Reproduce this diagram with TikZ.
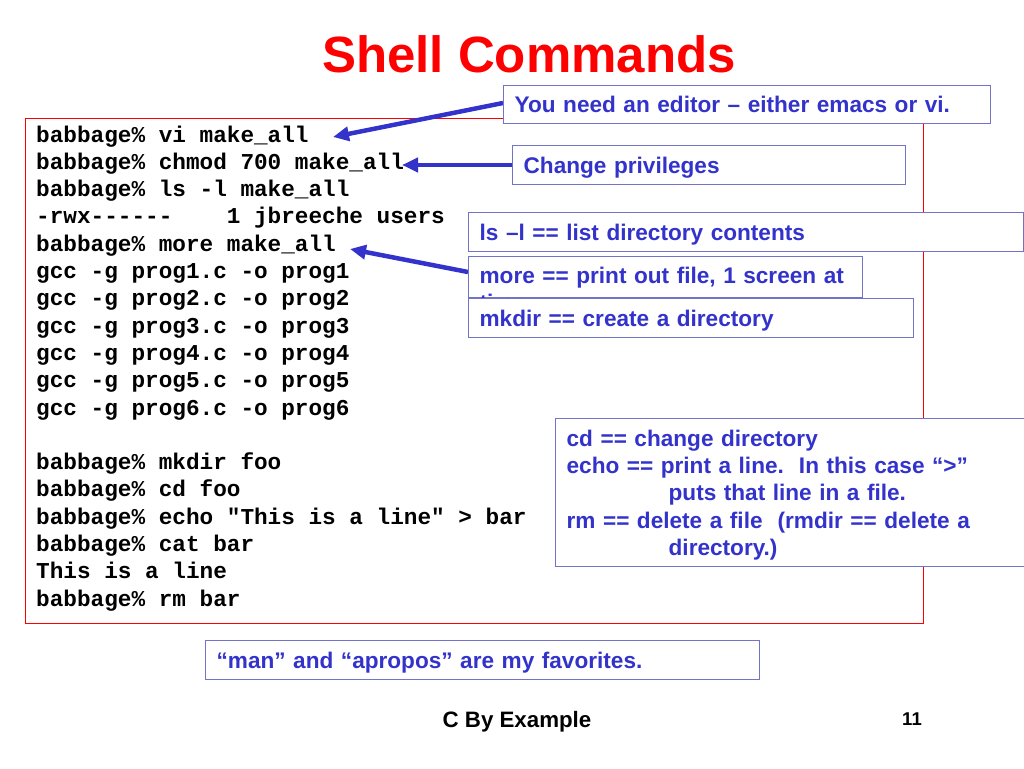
\documentclass[tikz,border=0pt]{standalone}
\usepackage{fontspec}
\setsansfont{Liberation Sans}
\setmonofont{Liberation Mono}
\usetikzlibrary{arrows.meta}

\definecolor{noteblue}{HTML}{3333CC}
\definecolor{noteframe}{HTML}{7373C8}

\begin{document}
\begin{tikzpicture}[x=1pt,y=-1pt]
\tikzstyle{note}=[draw=noteframe, line width=1.3pt, fill=white, text=noteblue,
  font=\sffamily\bfseries\fontsize{22.6}{27.3}\selectfont, anchor=north west,
  align=left, inner xsep=11pt, text height=18.5pt, text depth=2.5pt]
\tikzstyle{code}=[font=\ttfamily\bfseries\fontsize{22.7}{27.3}\selectfont,
  anchor=base west, inner sep=0pt]
\tikzstyle{pointer}=[draw=noteblue, line width=4.5pt,
  -{Triangle[length=16pt, width=14pt]}]

\useasboundingbox (0,0) rectangle (1024,768);

\node[font=\sffamily\bfseries\fontsize{51}{60}\selectfont, text=red, anchor=base]
  (title) at (529,72) {Shell Commands};

% terminal session
\node[draw=red, line width=0.9pt, minimum width=898pt, minimum height=505pt,
  anchor=north west, inner sep=0pt] (session) at (25,118) {};
\foreach \n/\txt in {0/{babbage\% vi make\_all},
                     1/{babbage\% chmod 700 make\_all},
                     2/{babbage\% ls -l make\_all},
                     3/{-rwx------\ \ \ \ 1 jbreeche users},
                     4/{babbage\% more make\_all},
                     5/{gcc -g prog1.c -o prog1},
                     6/{gcc -g prog2.c -o prog2},
                     7/{gcc -g prog3.c -o prog3},
                     8/{gcc -g prog4.c -o prog4},
                     9/{gcc -g prog5.c -o prog5},
                     10/{gcc -g prog6.c -o prog6},
                     12/{babbage\% mkdir foo},
                     13/{babbage\% cd foo},
                     14/{babbage\% echo "This is a line" > bar},
                     15/{babbage\% cat bar},
                     16/{This is a line},
                     17/{babbage\% rm bar}}
  \node[code] (line\n) at (36,142+27.3*\n) {\txt};

\coordinate (vi) at (333,137);
\coordinate (chmod) at (402,165);
\coordinate (more) at (350,249);

\draw[pointer] (503,103) -- (vi);
\draw[pointer] (512,165) -- (chmod);
\draw[pointer] (468,272) -- (more);

% notes
\node[note, minimum width=487pt, inner ysep=8.5pt, text width=465pt]
  (editor) at (503,85) {You need an editor – either emacs or vi.};
\node[note, minimum width=393pt, inner ysep=9pt, text width=371pt]
  (privileges) at (512,145) {Change privileges};
\node[note, minimum width=555pt, inner ysep=9pt, text width=533pt]
  (listing) at (468,212) {ls –l == list directory contents};
\node[note, minimum width=394pt, inner ysep=10pt, text height=17pt, text depth=4pt,
  text width=372pt] (pager) at (468,256) {more == print out file, 1 screen at time};
\node[note, minimum width=445pt, inner ysep=9pt, text width=423pt]
  (mkdir) at (468,298) {mkdir == create a directory};
\node[note, minimum width=469pt, minimum height=148pt, inner ysep=0pt,
  text height=19pt, text depth=112pt, text width=447pt] (basics) at (555,418)
  {cd == change directory\\
   echo == print a line.\ \ In this case “>”\\
   \hspace*{102pt}puts that line in a file.\\
   rm == delete a file\ \ (rmdir == delete a\\
   \hspace*{102pt}directory.)};
\node[note, minimum width=554pt, inner ysep=9pt, text width=532pt]
  (favorites) at (205,640) {“man” and “apropos” are my favorites.};

% footer
\node[font=\sffamily\bfseries\fontsize{22.3}{26}\selectfont, anchor=base]
  (footer) at (517,727) {C By Example};
\node[font=\sffamily\bfseries\fontsize{18.5}{22}\selectfont, anchor=base]
  (page) at (912,725) {11};
\end{tikzpicture}
\end{document}
